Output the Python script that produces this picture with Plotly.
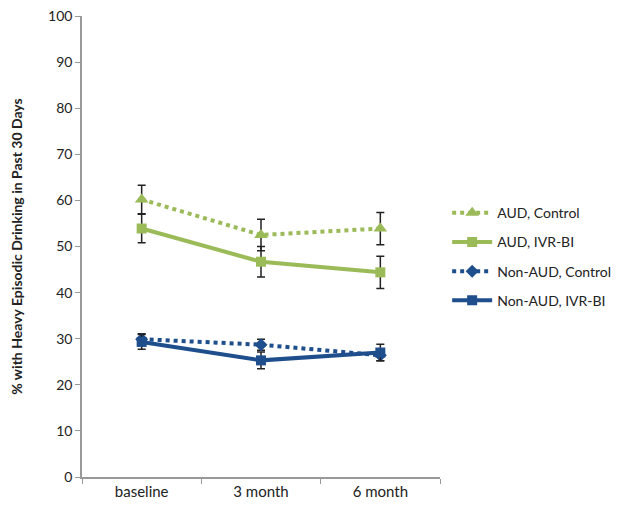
import plotly.graph_objects as go

categories = ["baseline", "3 month", "6 month"]
series_names = ["AUD, Control", "AUD, IVR-BI", "Non-AUD, Control", "Non-AUD, IVR-BI"]
aud_control = [60.2, 52.5, 53.9]
aud_control_err = [3.1, 3.4, 3.5]
aud_ivr = [53.9, 46.7, 44.4]
aud_ivr_err = [3.1, 3.3, 3.5]
non_control = [29.9, 28.7, 26.4]
non_control_err = [1.2, 1.2, 1.2]
non_ivr = [29.3, 25.3, 27.0]
non_ivr_err = [1.6, 1.8, 1.8]
y_ticks = [0, 10, 20, 30, 40, 50, 60, 70, 80, 90, 100]

green = "#9BBB59"
blue = "#1F4E8C"

specs = [
    (aud_control, aud_control_err, green, "dot", "triangle-up", 12),
    (aud_ivr, aud_ivr_err, green, "solid", "square", 10),
    (non_control, non_control_err, blue, "dot", "diamond", 10),
    (non_ivr, non_ivr_err, blue, "solid", "square", 10),
]

fig = go.Figure()
for name, (vals, errs, col, dash, sym, size) in zip(series_names, specs):
    fig.add_trace(go.Scatter(
        x=categories, y=vals, name=name, mode="lines+markers", legendgroup=name,
        line=dict(color=col, width=4, dash=dash),
        marker=dict(color=col, symbol=sym, size=size),
        error_y=dict(type="data", array=errs, visible=True, color="#222222",
                     thickness=1.5, width=4),
    ))

fig.update_layout(
    width=640, height=505,
    margin=dict(l=74, r=208, t=8, b=36),
    paper_bgcolor="white", plot_bgcolor="white",
    font=dict(family="Lato, Open Sans, sans-serif", size=14, color="#222222"),
    showlegend=True,
    legend=dict(x=1.02, y=0.607, xanchor="left", yanchor="top",
                font=dict(size=14), tracegroupgap=8, itemwidth=40),
    xaxis=dict(
        type="category", range=[-0.5, 2.5], automargin=False,
        showline=True, linecolor="#999999", linewidth=1.5,
        ticks="outside", tickson="boundaries", ticklen=5, tickcolor="#999999",
        showgrid=False, zeroline=False, tickfont=dict(size=15),
        ticklabeloverflow="allow",
    ),
    yaxis=dict(
        range=[0, 100], tickvals=y_ticks, automargin=False, showline=True,
        linecolor="#999999", linewidth=1.5, ticks="outside", ticklen=5,
        tickcolor="#999999", showgrid=False, zeroline=False, tickfont=dict(size=14),
        ticklabeloverflow="allow",
        title=dict(text="<b>% with Heavy Episodic Drinking in Past 30 Days</b>",
                   font=dict(size=14), standoff=32),
    ),
)

fig.write_html("out.html")
